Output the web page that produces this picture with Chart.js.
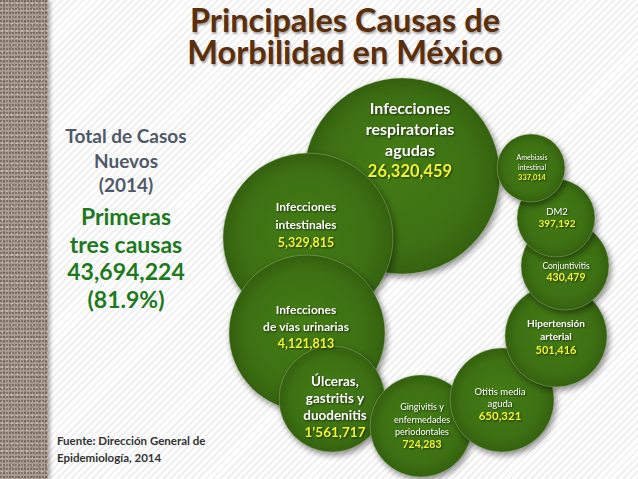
<!DOCTYPE html>
<html>
<head>
<meta charset="utf-8">
<script src="https://cdn.jsdelivr.net/npm/chart.js@4.4.1/dist/chart.umd.min.js"></script>
<style>
    html, body { margin: 0; padding: 0; }
    body {
        width: 638px; height: 479px; overflow: hidden; position: relative;
        font-family: Lato, "Open Sans", sans-serif;
        background: repeating-linear-gradient(135deg, #ffffff 0px, #ffffff 3px, #f0f0f0 3px, #f0f0f0 5px);
    }
    #franja {
        position: absolute; left: 0; top: 0; width: 48px; height: 479px;
        background-color: #a89b8f;
        background-image:
            radial-gradient(circle at 1px 1px, rgba(80,68,58,0.5) 0.7px, transparent 1.1px),
            radial-gradient(circle at 2px 3px, rgba(230,220,210,0.45) 0.7px, transparent 1.1px),
            radial-gradient(circle at 4px 2px, rgba(95,82,70,0.4) 0.6px, transparent 1px);
        background-size: 3px 4px, 5px 7px, 7px 5px;
        box-shadow: 2px 0 4px rgba(0,0,0,0.35);
    }
    #titulo {
        position: absolute; left: 125px; width: 440px; top: 4px; text-align: center;
        font-weight: bold; font-size: 32.5px; line-height: 32px; color: #5c2f0c;
        text-shadow: 1px 2px 2px rgba(0,0,0,0.35);
    }
    #total {
        position: absolute; left: 36px; width: 180px; top: 124px; text-align: center;
        font-weight: bold; font-size: 19px; line-height: 24.5px; color: #4f5968;
    }
    #primeras {
        position: absolute; left: 36px; width: 180px; top: 203px; text-align: center;
        font-weight: bold; font-size: 23px; line-height: 27.5px; color: #1c7a1c;
    }
    #fuente {
        position: absolute; left: 57px; top: 432px;
        font-weight: bold; font-size: 11.5px; line-height: 17px; color: #333333;
    }
    #grafica { position: absolute; }
</style>
</head>
<body>
<div id="franja"></div>
<div id="titulo">Principales Causas de<br>Morbilidad en México</div>
<div id="total">Total de Casos<br>Nuevos<br>(2014)</div>
<div id="primeras">Primeras<br>tres causas<br>43,694,224<br>(81.9%)</div>
<div id="fuente">Fuente: Dirección General de<br>Epidemiología, 2014</div>
<canvas id="grafica"></canvas>
<script>
// causas de morbilidad 2014 (casos nuevos)
const causas = [
    ["Infecciones", "respiratorias", "agudas"],
    ["Infecciones", "intestinales"],
    ["Infecciones", "de vías urinarias"],
    ["Úlceras,", "gastritis y", "duodenitis"],
    ["Gingivitis y", "enfermedades", "periodontales"],
    ["Otitis media", "aguda"],
    ["Hipertensión", "arterial"],
    ["Conjuntivitis"],
    ["DM2"],
    ["Amebiasis", "intestinal"],
];
const casos = [26320459, 5329815, 4121813, 1561717, 724283, 650321, 501416, 430479, 397192, 337014];

// acomodo de las burbujas (no proporcional al valor, como en la lamina)
const posX = [402, 308, 307, 332, 421, 502, 556, 565, 556, 531];
const posY = [176, 238, 333, 399, 426, 400, 336, 266, 218, 168];
const radio = [98, 85, 78, 53, 51, 52, 51, 44, 39, 34];

// texto dentro de cada burbuja
const desplaX = [8, -2, -1, 3, 1, -2, 0, 1, 1, 1];
const desplaY = [-36, -13, -6, 8, 0, 4, 1, 6, 0, 0];
const letra = [16, 12, 12, 13.5, 9, 9.5, 10, 8.5, 9.5, 7];
const letraValor = [16.5, 12.5, 12.5, 13.5, 10.5, 11.5, 11, 10.5, 10, 7.5];
const interlinea = [21, 18, 17, 17, 12.5, 12.5, 13.5, 12, 11.5, 10];
const peso = ["bold", "bold", "bold", "bold", "normal", "normal", "bold", "normal", "normal", "normal"];

const fmt = (v, i) => {
    const s = v.toLocaleString("en-US");
    return i === 3 ? s.replace(",", "’") : s;
};

const puntos = casos.map((v, i) => ({ x: posX[i], y: posY[i], r: radio[i] }));

// chart.js deja un margen igual a la burbuja mas grande; el lienzo se agranda
// por ese margen para que el area de la grafica coincida con la lamina
const borde = 1;
const margen = Math.max(...radio) + borde;
const lienzo = document.getElementById("grafica");
lienzo.width = 638 + 2 * margen;
lienzo.height = 479 + 2 * margen;
lienzo.style.left = -margen + "px";
lienzo.style.top = -margen + "px";

const sombra = {
    id: "sombra",
    beforeDatasetDraw(chart) {
        const ctx = chart.ctx;
        ctx.save();
        ctx.shadowColor = "rgba(0,0,0,0.45)";
        ctx.shadowBlur = 6;
        ctx.shadowOffsetX = 2;
        ctx.shadowOffsetY = 3;
    },
    afterDatasetDraw(chart) {
        chart.ctx.restore();
    },
};

const etiquetas = {
    id: "etiquetas",
    afterDatasetsDraw(chart) {
        const ctx = chart.ctx;
        const meta = chart.getDatasetMeta(0);
        ctx.save();
        ctx.textAlign = "center";
        ctx.textBaseline = "middle";
        ctx.shadowColor = "rgba(0,0,0,0.6)";
        ctx.shadowBlur = 2;
        ctx.shadowOffsetX = 1;
        ctx.shadowOffsetY = 1;
        meta.data.forEach((el, i) => {
            const lineas = causas[i];
            const lh = interlinea[i];
            const x = el.x + desplaX[i];
            let y = el.y + desplaY[i] - ((lineas.length + 1) * lh) / 2 + lh / 2;
            ctx.fillStyle = "#ffffff";
            ctx.font = peso[i] + " " + letra[i] + "px Lato";
            lineas.forEach((t) => {
                ctx.fillText(t, x, y);
                y += lh;
            });
            ctx.fillStyle = "#f2f530";
            ctx.font = "bold " + letraValor[i] + "px Lato";
            ctx.fillText(fmt(casos[i], i), x, y);
        });
        ctx.restore();
    },
};

const relleno = (c) => {
    const plano = "#3d6e14";
    if (c.type !== "data" || !c.chart.scales.x || !c.chart.scales.y) return plano;
    const i = c.dataIndex;
    const cx = c.chart.scales.x.getPixelForValue(posX[i]);
    const cy = c.chart.scales.y.getPixelForValue(posY[i]);
    const r = radio[i];
    if (!Number.isFinite(cx) || !Number.isFinite(cy)) return plano;
    const g = c.chart.ctx.createRadialGradient(cx - r * 0.1, cy - r * 0.15, 0, cx, cy, r);
    g.addColorStop(0, "#437c15");
    g.addColorStop(0.75, "#3d7013");
    g.addColorStop(1, "#35620f");
    return g;
};

let burbujas = new Chart(lienzo, {
    type: "bubble",
    data: {
        labels: causas.map((c) => c.join(" ")),
        datasets: [
            {
                label: "Casos nuevos 2014",
                data: puntos,
                backgroundColor: relleno,
                borderColor: "rgba(190,215,160,0.35)",
                borderWidth: borde,
                hoverRadius: 0,
                clip: false,
            },
        ],
    },
    options: {
        responsive: false,
        animation: false,
        events: [],
        layout: { padding: 0 },
        scales: {
            x: { type: "linear", min: 0, max: 638, display: false },
            y: { type: "linear", min: 0, max: 479, reverse: true, display: false },
        },
        plugins: {
            legend: { display: false },
            tooltip: { enabled: false },
        },
    },
    plugins: [sombra, etiquetas],
});
</script>
</body>
</html>
